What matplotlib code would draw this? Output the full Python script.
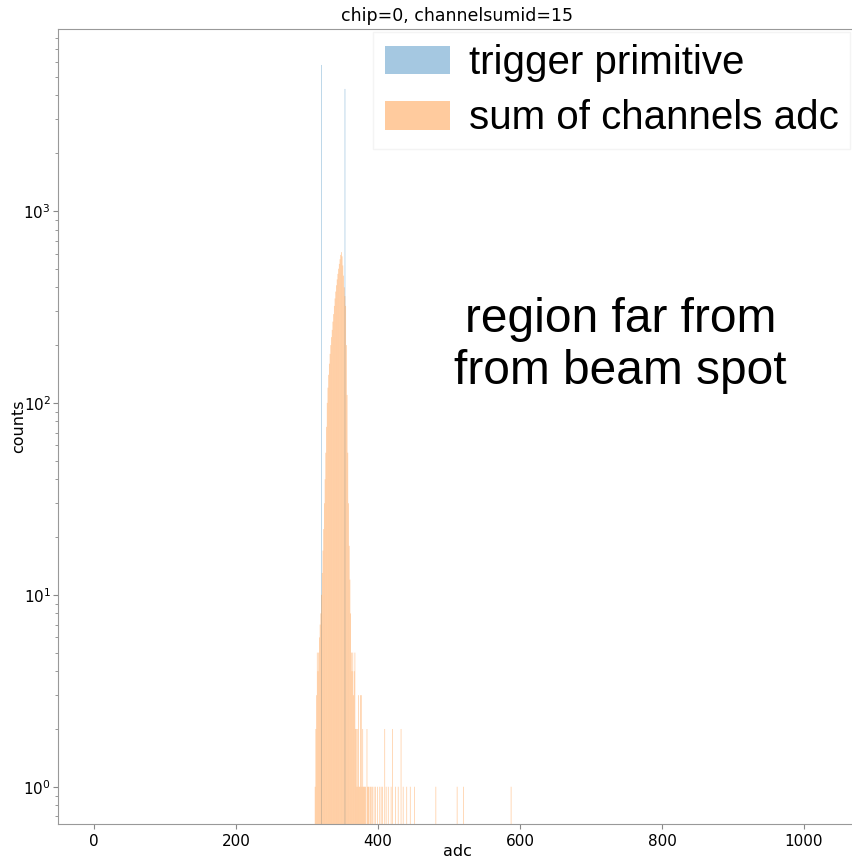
import numpy as np
import matplotlib
matplotlib.use("Agg")
import matplotlib.pyplot as plt

# trigger primitive histogram (adc value -> counts)
tp_adc = [320, 353]
tp_counts = [5760, 4320]

# sum of channels adc histogram (adc value -> counts)
sum_adc = [311, 312, 313, 314, 315, 316, 317, 318, 319, 320,
           321, 322, 323, 324, 325, 326, 327, 328, 329, 330,
           331, 332, 333, 334, 335, 336, 337, 338, 339, 340,
           341, 342, 343, 344, 345, 346, 347, 348, 349, 350,
           351, 352, 353, 354, 355, 356, 357, 358, 359, 360,
           361, 362, 363, 364, 365, 366, 367, 368, 369, 370,
           371, 372, 373, 374, 375, 376, 377, 378, 379, 380,
           381, 382, 384, 385, 386, 387, 389, 390, 392, 394,
           396, 399, 402, 404, 406, 409, 411, 414, 418, 420,
           424, 428, 432, 435, 440, 445, 451, 481, 511, 520, 587]
sum_counts = [1, 2, 3, 5, 4, 5, 6, 7, 8, 10,
              13, 17, 22, 30, 40, 55, 75, 100, 120, 140,
              160, 180, 200, 220, 240, 265, 290, 320, 350, 380,
              410, 440, 470, 500, 530, 560, 590, 610, 580, 520,
              460, 400, 360, 320, 200, 110, 55, 30, 18, 12,
              8, 5, 4, 5, 3, 4, 5, 2, 2, 1,
              2, 3, 1, 1, 3, 3, 1, 2, 1, 1,
              1, 1, 2, 1, 1, 1, 1, 1, 1, 1,
              1, 1, 1, 1, 1, 2, 1, 1, 1, 2,
              1, 1, 2, 1, 1, 1, 1, 1, 1, 1, 1]

bins = np.arange(0, 1025)

fig = plt.figure(figsize=(8.52, 8.6), dpi=100)
ax = fig.add_axes([0.0678, 0.0419, 0.9375, 0.9244])

_, _, p1 = ax.hist(tp_adc, bins=bins, weights=tp_counts, alpha=0.4, color='tab:blue',
                   label='trigger primitive', log=True)
_, _, p2 = ax.hist(sum_adc, bins=bins, weights=sum_counts, alpha=0.4, color='tab:orange',
                   label='sum of channels adc', log=True)
for p in list(p1) + list(p2):
    p.set_snap(False)

ax.set_yscale('log')
ax.set_xlim(-51, 1074)
ax.set_ylim(0.64, 8870)
ax.set_xticks([0, 200, 400, 600, 800, 1000])

for sp in ax.spines.values():
    sp.set_color('#999999')
ax.tick_params(axis='both', which='both', colors='#888888', labelcolor='black',
               labelsize=11)
ax.tick_params(axis='y', which='major', pad=1.5)

ax.set_title('chip=0, channelsumid=15', fontsize=12.5)
ax.set_xlabel('adc', fontsize=11.5)
ax.set_ylabel('counts', fontsize=11.5)
ax.yaxis.set_label_coords(-0.04, 0.5)
ax.xaxis.set_label_coords(0.5, -0.025)

leg = ax.legend(loc='upper right', bbox_to_anchor=(1.0175, 1.0214),
                prop={'family': 'Liberation Sans', 'size': 29},
                handlelength=1.6, handleheight=0.72, handletextpad=0.47,
                labelspacing=0.425, borderpad=0.3, frameon=True,
                fancybox=False, edgecolor='#f4f4f4', framealpha=1.0)

ax.text(742, 198, 'region far from\nfrom beam spot', ha='center', va='center',
        fontsize=34.5, family='Liberation Sans', transform=ax.transData,
        linespacing=1.2)

fig.savefig('out.png', dpi=100)
